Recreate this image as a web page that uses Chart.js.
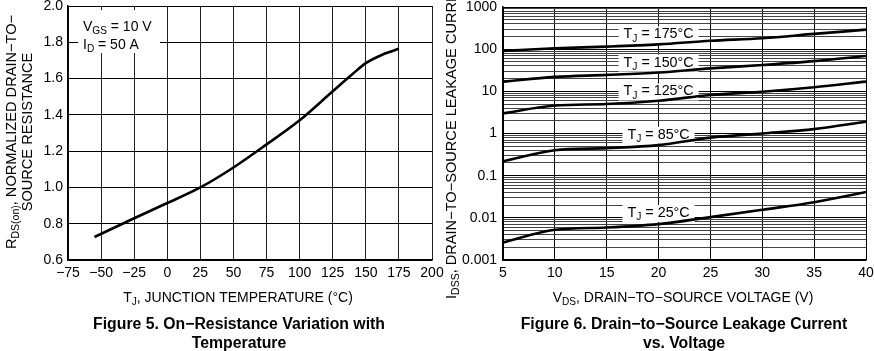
<!DOCTYPE html>
<html>
<head>
<meta charset="utf-8">
<script src="https://cdn.jsdelivr.net/npm/chart.js@4.4.1/dist/chart.umd.min.js"></script>
<style>
html, body { margin: 0; padding: 0; background: #fff; }
#wrap { position: relative; width: 874px; height: 351px; overflow: hidden; }
#wrap canvas { position: absolute; left: 0; top: 0; }
</style>
</head>
<body>
<div id="wrap">
  <canvas id="fig5" width="874" height="351"></canvas>
  <canvas id="fig6" width="874" height="351"></canvas>
</div>
<script>
// Figure 5 - normalized on-resistance vs junction temperature
const tempC = [-55, -25, 0, 25, 50, 75, 100, 125, 140, 150, 162, 175];
const rdsNorm = [0.727, 0.83, 0.914, 1.0, 1.11, 1.237, 1.37, 1.53, 1.625, 1.685, 1.73, 1.764];

// Figure 6 - leakage current (nA) vs drain-source voltage
const vds = [5, 10, 15, 20, 25, 30, 35, 40];
const leak175 = [91, 105, 115, 130, 158, 182, 230, 290];
const leak150 = [17, 22, 24.5, 28, 35, 42, 52, 69];
const leak125 = [3.0, 4.6, 5.0, 6.0, 8.2, 9.8, 12.5, 17];
const leak85 = [0.22, 0.40, 0.45, 0.53, 0.80, 1.0, 1.27, 1.9];
const leak25 = [0.0026, 0.0052, 0.0059, 0.0071, 0.0104, 0.0155, 0.0234, 0.041];
const leakSeries = [leak175, leak150, leak125, leak85, leak25];
const leakTemps = ['175', '150', '125', '85', '25'];
const leakLabelY = [224, 48, 9.9, 0.94, 0.013];   // where each T_J tag sits at VDS = 20
const leakTicks = ['0.001', '0.01', '0.1', '1', '10', '100', '1000'];

const FAMILY = '"Liberation Sans", Arial, Helvetica, sans-serif';
const tickFont = { family: FAMILY, size: 14 };

// text with subscripts: parts = [[text, isSub], ...]
function richWidth(ctx, parts, size, bold) {
    let total = 0;
    parts.forEach(p => {
        ctx.font = (bold ? 'bold ' : '') + (p[1] ? size * 0.72 : size) + 'px ' + FAMILY;
        total += ctx.measureText(p[0]).width;
    });
    return total;
}

function drawRich(ctx, parts, x, y, size, opts) {
    opts = opts || {};
    const total = richWidth(ctx, parts, size, opts.bold);
    ctx.save();
    ctx.translate(x, y);
    if (opts.rotate) ctx.rotate(opts.rotate);
    let cx = opts.align === 'left' ? 0 : -total / 2;
    ctx.textBaseline = 'middle';
    ctx.textAlign = 'left';
    ctx.fillStyle = '#000';
    parts.forEach(p => {
        ctx.font = (opts.bold ? 'bold ' : '') + (p[1] ? size * 0.72 : size) + 'px ' + FAMILY;
        ctx.fillText(p[0], cx, p[1] ? size * 0.3 : 0);
        cx += ctx.measureText(p[0]).width;
    });
    ctx.restore();
}

const fig5Text = {
    id: 'fig5Text',
    afterDraw(chart) {
        const ctx = chart.ctx;
        const a = chart.chartArea;
        // conditions box
        ctx.fillStyle = '#fff';
        ctx.fillRect(a.left + 10, a.top + 4, 82, 43);
        drawRich(ctx, [['V', false], ['GS', true], [' = 10 V', false]], a.left + 15, a.top + 21, 14, { align: 'left' });
        drawRich(ctx, [['I', false], ['D', true], [' = 50 A', false]], a.left + 15, a.top + 39, 14, { align: 'left' });
        // axis titles
        drawRich(ctx, [['R', false], ['DS(on)', true], [', NORMALIZED DRAIN\u2212TO\u2212', false]], 12, 132, 14.6, { rotate: -Math.PI / 2 });
        drawRich(ctx, [['SOURCE RESISTANCE', false]], 28, 132, 14.6, { rotate: -Math.PI / 2 });
        drawRich(ctx, [['T', false], ['J', true], [', JUNCTION TEMPERATURE (\u00B0C)', false]], 238, 298, 14);
        // caption
        drawRich(ctx, [['Figure 5. On\u2212Resistance Variation with', false]], 239, 325, 15.8, { bold: true });
        drawRich(ctx, [['Temperature', false]], 239, 344, 15.8, { bold: true });
    }
};

const fig6Text = {
    id: 'fig6Text',
    // tags go under the curves, over the grid
    beforeDatasetsDraw(chart) {
        const ctx = chart.ctx;
        const xs = chart.scales.x, ys = chart.scales.y;
        leakTemps.forEach((t, i) => {
            const parts = [['T', false], ['J', true], [' = ' + t + '\u00B0C', false]];
            const px = xs.getPixelForValue(20);
            const py = ys.getPixelForValue(leakLabelY[i]);
            const w = richWidth(ctx, parts, 14.3);
            ctx.fillStyle = '#fff';
            ctx.fillRect(px - w / 2 - 5, py - 8, w + 10, 17);
            drawRich(ctx, parts, px, py, 14.3);
        });
    },
    afterDraw(chart) {
        const ctx = chart.ctx;
        drawRich(ctx, [['I', false], ['DSS', true], [', DRAIN\u2212TO\u2212SOURCE LEAKAGE CURRENT (nA)', false]], 452, 299, 14.6, { rotate: -Math.PI / 2, align: 'left' });
        drawRich(ctx, [['V', false], ['DS', true], [', DRAIN\u2212TO\u2212SOURCE VOLTAGE (V)', false]], 683, 298, 14);
        drawRich(ctx, [['Figure 6. Drain\u2212to\u2212Source Leakage Current', false]], 684, 325, 15.8, { bold: true });
        drawRich(ctx, [['vs. Voltage', false]], 684, 344, 15.8, { bold: true });
    }
};

function pinX(h) {
    return s => { s.height = h; s.paddingLeft = 0; s.paddingRight = 0; };
}
function pinY(w) {
    return s => { s.width = w; s.paddingTop = 0; s.paddingBottom = 0; };
}

new Chart(document.getElementById('fig5'), {
    type: 'line',
    data: {
        datasets: [{
            data: tempC.map((t, i) => ({ x: t, y: rdsNorm[i] })),
            borderColor: '#000',
            borderWidth: 2.6,
            pointRadius: 0,
            cubicInterpolationMode: 'monotone',
            fill: false
        }]
    },
    options: {
        responsive: false,
        animation: false,
        events: [],
        layout: { padding: { left: 0, top: 6, right: 874 - 432, bottom: 0 } },
        plugins: { legend: { display: false }, tooltip: { enabled: false } },
        scales: {
            x: {
                type: 'linear', min: -75, max: 200,
                ticks: {
                    stepSize: 25, color: '#000', font: tickFont, padding: 5, maxRotation: 0, autoSkip: false,
                    callback: v => v < 0 ? '\u2212' + Math.abs(v) : String(v)
                },
                grid: { color: '#222', lineWidth: 1, drawTicks: false },
                border: { color: '#000', width: 1.5 },
                afterFit: pinX(351 - 260)
            },
            y: {
                type: 'linear', min: 0.6, max: 2.0,
                ticks: {
                    stepSize: 0.2, color: '#000', font: tickFont, padding: 5, autoSkip: false,
                    callback: v => v.toFixed(1)
                },
                grid: { color: '#000', lineWidth: 1, drawTicks: false },
                border: { color: '#000', width: 1.5 },
                afterFit: pinY(68)
            }
        }
    },
    plugins: [fig5Text]
});

new Chart(document.getElementById('fig6'), {
    type: 'line',
    data: {
        datasets: leakSeries.map(s => ({
            data: vds.map((v, i) => ({ x: v, y: s[i] })),
            borderColor: '#000',
            borderWidth: 2.6,
            pointRadius: 0,
            cubicInterpolationMode: 'monotone',
            fill: false
        }))
    },
    options: {
        responsive: false,
        animation: false,
        events: [],
        layout: { padding: { left: 0, top: 7, right: 874 - 866, bottom: 0 } },
        plugins: { legend: { display: false }, tooltip: { enabled: false } },
        scales: {
            x: {
                type: 'linear', min: 5, max: 40,
                ticks: { stepSize: 5, color: '#000', font: tickFont, padding: 5, maxRotation: 0, autoSkip: false },
                grid: { color: '#000', lineWidth: 1, drawTicks: false },
                border: { color: '#000', width: 1.5 },
                afterFit: pinX(351 - 260)
            },
            y: {
                type: 'logarithmic', min: 0.001, max: 1000,
                afterBuildTicks: scale => {
                    const t = [];
                    for (let e = -3; e <= 2; e++) {
                        for (let m = 1; m <= 9; m++) t.push({ value: m * Math.pow(10, e), major: m === 1, exp: e });
                    }
                    t.push({ value: 1000, major: true, exp: 3 });
                    scale.ticks = t;
                },
                ticks: {
                    color: '#000', font: tickFont, padding: 6, autoSkip: false,
                    callback: (v, i, ticks) => ticks[i].major ? leakTicks[ticks[i].exp + 3] : ''
                },
                grid: {
                    color: c => (c.tick && c.tick.major) ? '#000' : '#444',
                    lineWidth: 1,
                    drawTicks: false
                },
                border: { color: '#000', width: 1.5 },
                afterFit: pinY(503)
            }
        }
    },
    plugins: [fig6Text]
});
</script>
</body>
</html>
